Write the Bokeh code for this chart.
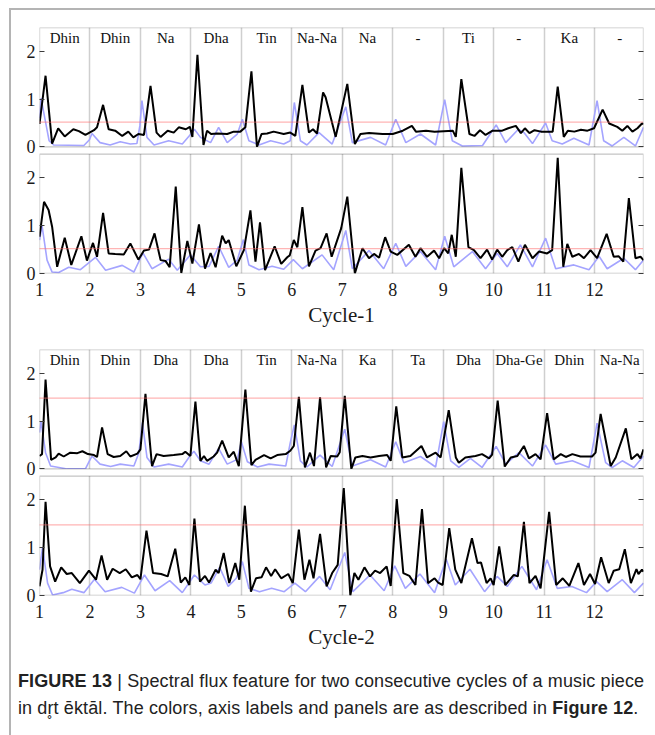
from bokeh.plotting import figure
from bokeh.models import Range1d, LinearAxis, Span, FixedTicker, Div, BoxAnnotation
from bokeh.layouts import column
from bokeh.core.properties import value
from bokeh.embed import file_html
from bokeh.resources import INLINE

SERIF = "Liberation Serif"
BEATS = list(range(1, 13))
BEAT_CENTERS = [b + 0.5 for b in BEATS]
STROKES_1 = ["Dhin", "Dhin", "Na", "Dha", "Tin", "Na-Na", "Na", "-", "Ti", "-", "Ka", "-"]
STROKES_2 = ["Dhin", "Dhin", "Dha", "Dha", "Tin", "Na-Na", "Ka", "Ta", "Dha", "Dha-Ge", "Dhin", "Na-Na"]
THRESH_1 = 0.52
THRESH_2 = 1.48
Y_TICKS = [0, 1, 2]
Y_MAX = 2.5

# ---- Cycle 1, panel a (top)
X1K = [1.00, 1.12, 1.25, 1.37, 1.50, 1.67, 1.78, 1.91, 2.08, 2.14, 2.26, 2.37, 2.50, 2.64, 2.76, 2.86, 2.96, 3.07, 3.20, 3.32, 3.40, 3.54, 3.66, 3.76, 3.90, 3.98, 4.03, 4.13, 4.25, 4.32, 4.40, 4.52, 4.72, 4.85, 4.98, 5.08, 5.20, 5.31, 5.40, 5.51, 5.64, 5.84, 5.97, 6.07, 6.21, 6.34, 6.42, 6.50, 6.62, 6.67, 6.87, 7.10, 7.25, 7.36, 7.53, 7.80, 8.00, 8.20, 8.38, 8.46, 8.66, 8.83, 9.19, 9.25, 9.36, 9.52, 9.62, 9.73, 9.84, 9.98, 10.17, 10.29, 10.44, 10.54, 10.62, 10.71, 10.81, 10.94, 11.17, 11.27, 11.39, 11.47, 11.60, 11.73, 11.86, 11.99, 12.16, 12.29, 12.45, 12.55, 12.65, 12.75, 12.85, 12.94, 12.97]
Y1K = [0.48, 1.49, 0.07, 0.39, 0.22, 0.37, 0.33, 0.25, 0.35, 0.41, 0.88, 0.37, 0.34, 0.23, 0.32, 0.20, 0.27, 0.25, 1.28, 0.30, 0.21, 0.34, 0.30, 0.41, 0.37, 0.42, 0.21, 1.93, 0.04, 0.34, 0.27, 0.28, 0.27, 0.32, 0.32, 0.41, 1.58, 0.00, 0.27, 0.28, 0.32, 0.27, 0.30, 0.23, 1.30, 0.30, 0.37, 0.28, 1.14, 1.04, 0.21, 1.32, 0.06, 0.27, 0.29, 0.27, 0.27, 0.34, 0.44, 0.32, 0.34, 0.32, 0.34, 0.21, 1.42, 0.27, 0.23, 0.35, 0.25, 0.34, 0.34, 0.39, 0.44, 0.29, 0.39, 0.29, 0.35, 0.32, 0.32, 1.26, 0.21, 0.34, 0.32, 0.36, 0.34, 0.39, 0.78, 0.49, 0.42, 0.34, 0.44, 0.32, 0.39, 0.49, 0.48]
X1B = [1.00, 1.03, 1.19, 1.28, 1.88, 1.99, 2.04, 2.20, 2.40, 2.60, 2.80, 2.93, 2.99, 3.03, 3.13, 3.27, 3.56, 3.83, 4.00, 4.07, 4.19, 4.39, 4.55, 4.72, 4.92, 5.02, 5.15, 5.35, 5.58, 5.84, 5.97, 6.05, 6.17, 6.30, 6.54, 6.80, 7.07, 7.20, 7.56, 7.86, 8.06, 8.26, 8.55, 8.85, 9.03, 9.18, 9.38, 9.78, 10.05, 10.24, 10.49, 10.60, 10.77, 11.03, 11.16, 11.36, 11.59, 11.89, 12.05, 12.18, 12.35, 12.58, 12.81, 12.97]
Y1B = [0.60, 1.02, 0.13, 0.04, 0.03, 0.15, 0.28, 0.09, 0.04, 0.11, 0.06, 0.07, 0.45, 0.97, 0.20, 0.04, 0.13, 0.06, 0.27, 0.37, 0.20, 0.09, 0.41, 0.09, 0.27, 0.58, 0.13, 0.04, 0.13, 0.06, 0.13, 0.93, 0.13, 0.04, 0.30, 0.06, 0.84, 0.09, 0.20, 0.04, 0.58, 0.09, 0.27, 0.04, 0.99, 0.13, 0.02, 0.03, 0.46, 0.09, 0.37, 0.30, 0.07, 0.50, 0.13, 0.06, 0.18, 0.04, 0.97, 0.13, 0.02, 0.20, 0.02, 0.41]

# ---- Cycle 1, panel b
X2K = [1.00, 1.09, 1.18, 1.25, 1.35, 1.50, 1.63, 1.83, 1.94, 2.06, 2.14, 2.26, 2.37, 2.50, 2.67, 2.80, 2.96, 3.07, 3.17, 3.28, 3.40, 3.50, 3.58, 3.70, 3.81, 3.93, 4.03, 4.16, 4.28, 4.39, 4.49, 4.62, 4.69, 4.75, 4.90, 5.05, 5.18, 5.28, 5.37, 5.47, 5.66, 5.79, 5.91, 5.96, 6.04, 6.11, 6.21, 6.34, 6.47, 6.57, 6.69, 6.79, 6.98, 7.10, 7.25, 7.40, 7.53, 7.63, 7.73, 7.85, 7.96, 8.09, 8.32, 8.45, 8.55, 8.68, 8.82, 8.92, 9.02, 9.10, 9.17, 9.25, 9.36, 9.50, 9.61, 9.74, 9.87, 9.97, 10.07, 10.17, 10.27, 10.37, 10.49, 10.62, 10.77, 10.90, 11.06, 11.16, 11.27, 11.38, 11.46, 11.56, 11.69, 11.79, 11.92, 12.05, 12.24, 12.38, 12.48, 12.57, 12.68, 12.81, 12.91, 12.97]
Y2K = [0.77, 1.50, 1.33, 0.98, 0.14, 0.75, 0.18, 0.78, 0.27, 0.64, 0.35, 1.27, 0.42, 0.41, 0.40, 0.63, 0.29, 0.48, 0.50, 0.84, 0.28, 0.26, 0.13, 1.82, 0.01, 0.68, 0.21, 1.03, 0.10, 0.43, 0.13, 0.79, 0.63, 0.70, 0.15, 0.49, 1.32, 0.25, 1.07, 0.07, 0.57, 0.20, 0.34, 0.38, 0.70, 0.55, 1.39, 0.15, 0.48, 0.53, 0.84, 0.35, 0.95, 1.61, 0.00, 0.53, 0.32, 0.41, 0.33, 0.76, 0.46, 0.39, 0.60, 0.35, 0.53, 0.35, 0.48, 0.32, 0.53, 0.42, 0.81, 0.35, 2.21, 0.55, 0.49, 0.32, 0.50, 0.29, 0.50, 0.35, 0.49, 0.55, 0.25, 0.60, 0.32, 0.46, 0.42, 0.49, 2.42, 0.14, 0.62, 0.35, 0.41, 0.32, 0.49, 0.32, 0.83, 0.35, 0.36, 0.25, 1.58, 0.32, 0.35, 0.28]
X2B = [1.00, 1.05, 1.15, 1.25, 1.38, 1.58, 1.81, 2.11, 2.31, 2.64, 2.87, 3.05, 3.23, 3.56, 3.73, 3.99, 4.19, 4.36, 4.55, 4.75, 4.92, 5.04, 5.15, 5.35, 5.61, 5.84, 6.03, 6.21, 6.60, 6.83, 7.07, 7.20, 7.53, 7.82, 8.06, 8.26, 8.55, 8.85, 9.03, 9.21, 9.58, 9.84, 10.07, 10.27, 10.53, 10.77, 11.03, 11.23, 11.59, 11.89, 12.09, 12.25, 12.58, 12.81, 12.97]
Y2B = [0.70, 1.00, 0.28, 0.03, 0.02, 0.13, 0.08, 0.34, 0.07, 0.17, 0.03, 0.43, 0.10, 0.30, 0.07, 0.39, 0.14, 0.15, 0.57, 0.13, 0.28, 0.71, 0.18, 0.08, 0.15, 0.09, 0.29, 0.10, 0.39, 0.08, 0.90, 0.10, 0.48, 0.10, 0.63, 0.15, 0.46, 0.08, 0.78, 0.14, 0.46, 0.10, 0.42, 0.14, 0.60, 0.14, 0.74, 0.10, 0.18, 0.08, 0.36, 0.10, 0.32, 0.08, 0.28]

# ---- Cycle 2, panel a
X3K = [1.00, 1.05, 1.12, 1.23, 1.32, 1.38, 1.48, 1.61, 1.75, 1.85, 1.96, 2.08, 2.14, 2.24, 2.35, 2.47, 2.60, 2.72, 2.80, 2.94, 3.00, 3.10, 3.23, 3.32, 3.46, 3.66, 3.83, 3.89, 3.99, 4.09, 4.19, 4.26, 4.32, 4.45, 4.52, 4.62, 4.75, 4.85, 4.95, 5.08, 5.20, 5.28, 5.45, 5.58, 5.71, 5.88, 5.97, 6.04, 6.14, 6.26, 6.36, 6.44, 6.56, 6.68, 6.77, 6.90, 6.95, 7.05, 7.18, 7.26, 7.40, 7.56, 7.73, 7.89, 7.96, 8.07, 8.19, 8.35, 8.57, 8.68, 8.85, 8.95, 9.11, 9.25, 9.31, 9.44, 9.64, 9.77, 9.91, 9.97, 10.08, 10.22, 10.34, 10.47, 10.60, 10.70, 10.83, 10.93, 11.06, 11.19, 11.33, 11.43, 11.56, 11.72, 11.95, 12.02, 12.12, 12.32, 12.42, 12.62, 12.73, 12.85, 12.91, 12.97]
Y3K = [0.27, 0.31, 1.87, 0.19, 0.24, 0.32, 0.26, 0.34, 0.33, 0.37, 0.31, 0.29, 0.25, 0.87, 0.31, 0.25, 0.27, 0.37, 0.26, 0.32, 0.41, 1.57, 0.06, 0.31, 0.27, 0.29, 0.31, 0.36, 0.27, 1.41, 0.17, 0.27, 0.17, 0.26, 0.34, 0.59, 0.24, 0.36, 0.06, 1.66, 0.08, 0.19, 0.29, 0.22, 0.29, 0.31, 0.38, 0.48, 1.51, 0.03, 0.34, 0.06, 1.50, 0.03, 0.27, 0.26, 0.35, 1.53, 0.00, 0.24, 0.27, 0.24, 0.27, 0.29, 0.17, 1.31, 0.24, 0.27, 0.48, 0.24, 0.34, 0.24, 1.23, 0.24, 0.13, 0.24, 0.27, 0.31, 0.22, 0.30, 1.43, 0.05, 0.24, 0.27, 0.48, 0.22, 0.31, 0.20, 1.17, 0.20, 0.31, 0.25, 0.31, 0.26, 0.26, 0.34, 1.15, 0.06, 0.24, 0.85, 0.20, 0.31, 0.22, 0.41]
X3B = [1.00, 1.03, 1.12, 1.22, 1.55, 1.91, 1.99, 2.04, 2.20, 2.41, 2.60, 2.87, 2.97, 3.04, 3.13, 3.27, 3.56, 3.83, 3.98, 4.06, 4.19, 4.36, 4.55, 4.72, 4.92, 5.00, 5.12, 5.32, 5.55, 5.88, 5.97, 6.05, 6.17, 6.30, 6.56, 6.80, 7.05, 7.20, 7.56, 7.86, 8.06, 8.22, 8.55, 8.85, 9.01, 9.15, 9.31, 9.54, 9.77, 10.05, 10.24, 10.50, 10.77, 11.03, 11.23, 11.56, 11.89, 12.05, 12.22, 12.35, 12.55, 12.78, 12.97]
Y3B = [0.76, 1.00, 0.34, 0.06, 0.00, 0.00, 0.17, 0.27, 0.10, 0.05, 0.10, 0.06, 0.34, 0.97, 0.24, 0.04, 0.10, 0.04, 0.27, 0.37, 0.17, 0.10, 0.43, 0.10, 0.20, 0.57, 0.15, 0.04, 0.10, 0.06, 0.55, 0.92, 0.17, 0.04, 0.29, 0.05, 0.83, 0.06, 0.19, 0.04, 0.57, 0.13, 0.26, 0.04, 0.99, 0.17, 0.03, 0.22, 0.03, 0.47, 0.10, 0.34, 0.06, 0.50, 0.10, 0.17, 0.03, 0.96, 0.13, 0.03, 0.17, 0.03, 0.27]

# ---- Cycle 2, panel b
X4K = [1.00, 1.06, 1.12, 1.21, 1.31, 1.43, 1.54, 1.64, 1.80, 1.98, 2.12, 2.23, 2.34, 2.45, 2.59, 2.71, 2.83, 2.94, 3.00, 3.12, 3.25, 3.41, 3.54, 3.69, 3.80, 3.89, 3.97, 4.07, 4.18, 4.28, 4.36, 4.49, 4.55, 4.65, 4.76, 4.88, 4.96, 5.07, 5.19, 5.29, 5.40, 5.49, 5.59, 5.67, 5.79, 5.93, 6.02, 6.14, 6.25, 6.35, 6.43, 6.56, 6.69, 6.80, 6.91, 7.03, 7.16, 7.24, 7.32, 7.44, 7.55, 7.65, 7.75, 7.88, 7.96, 8.08, 8.21, 8.33, 8.45, 8.58, 8.70, 8.83, 8.90, 8.99, 9.12, 9.24, 9.36, 9.57, 9.68, 9.75, 9.86, 9.94, 10.00, 10.11, 10.23, 10.40, 10.48, 10.60, 10.71, 10.83, 10.93, 11.10, 11.24, 11.37, 11.50, 11.68, 11.79, 11.91, 12.01, 12.13, 12.28, 12.38, 12.49, 12.60, 12.72, 12.83, 12.87, 12.94, 12.97]
Y4K = [0.19, 0.54, 1.96, 0.61, 0.29, 0.59, 0.45, 0.47, 0.26, 0.52, 0.33, 0.84, 0.33, 0.56, 0.47, 0.55, 0.38, 0.43, 0.34, 1.36, 0.47, 0.45, 0.40, 0.98, 0.27, 0.38, 0.22, 1.61, 0.29, 0.41, 0.27, 0.54, 0.47, 0.89, 0.26, 0.68, 0.33, 1.88, 0.08, 0.36, 0.38, 0.59, 0.41, 0.55, 0.36, 0.45, 0.26, 1.38, 0.33, 0.75, 0.36, 1.29, 0.19, 0.47, 0.64, 2.25, 0.00, 0.47, 0.33, 0.59, 0.40, 0.52, 0.47, 0.61, 0.20, 2.02, 0.47, 0.41, 0.22, 1.81, 0.26, 0.36, 0.27, 0.22, 1.41, 0.54, 0.26, 1.20, 0.68, 0.69, 0.26, 0.36, 0.22, 1.03, 0.22, 0.43, 0.40, 1.54, 0.26, 0.41, 0.15, 1.75, 0.22, 0.36, 0.20, 0.68, 0.22, 0.45, 0.24, 0.80, 0.26, 0.52, 0.55, 0.97, 0.26, 0.55, 0.45, 0.54, 0.50]
X4B = [1.00, 1.06, 1.16, 1.26, 1.47, 1.64, 1.88, 2.09, 2.30, 2.63, 2.88, 3.08, 3.29, 3.58, 3.83, 4.07, 4.28, 4.40, 4.57, 4.74, 4.90, 5.02, 5.15, 5.36, 5.60, 5.85, 6.06, 6.27, 6.55, 6.76, 7.05, 7.21, 7.55, 7.83, 8.04, 8.25, 8.54, 8.83, 9.06, 9.24, 9.53, 9.82, 10.07, 10.27, 10.56, 10.85, 11.06, 11.26, 11.55, 11.84, 12.04, 12.25, 12.55, 12.79, 12.97]
Y4B = [0.54, 1.01, 0.26, 0.01, 0.06, 0.13, 0.06, 0.34, 0.08, 0.17, 0.05, 0.43, 0.10, 0.31, 0.06, 0.43, 0.22, 0.26, 0.59, 0.19, 0.36, 0.71, 0.15, 0.08, 0.15, 0.08, 0.26, 0.08, 0.40, 0.12, 0.90, 0.08, 0.43, 0.10, 0.62, 0.15, 0.45, 0.06, 0.76, 0.22, 0.55, 0.08, 0.40, 0.19, 0.61, 0.12, 0.75, 0.15, 0.19, 0.06, 0.29, 0.08, 0.33, 0.06, 0.26]

FRAME_COLOR = "#3c3c3c"
LABEL_Y = 2.27
GAP = 0.15  # blank band between the two stacked panels, in y units


def pair(xs, ys):
    n = min(len(xs), len(ys))
    return xs[:n], ys[:n]


def style_axis_ticks(ax):
    ax.major_tick_in = 5
    ax.major_tick_out = 0
    ax.minor_tick_line_color = None
    ax.axis_line_color = None
    ax.major_tick_line_color = FRAME_COLOR


def make_cycle(top_data, bot_data, thresh, strokes, xlabel, top_border, bottom_border):
    off = round(Y_MAX + GAP, 4)
    total = round(Y_MAX + off, 4)
    p = figure(frame_width=604, frame_height=246,
               x_range=Range1d(1, 12.97), y_range=Range1d(0, total),
               output_backend="svg", toolbar_location=None,
               min_border_left=28, min_border_right=10,
               min_border_top=top_border, min_border_bottom=bottom_border)
    p.extra_y_ranges = {"upper": Range1d(-off, Y_MAX)}
    p.outline_line_color = None
    p.background_fill_color = "white"
    p.border_fill_color = "white"
    p.ygrid.visible = False
    p.xgrid.ticker = FixedTicker(ticks=BEATS)
    p.xgrid.grid_line_color = "#cfcfcf"
    p.xgrid.grid_line_width = 1.5

    # y ticks for both panels on one shared scale
    ticks = Y_TICKS + [round(t + off, 4) for t in Y_TICKS]
    labels = {round(t + off, 4): str(t) for t in Y_TICKS}
    ya = p.yaxis[0]
    ya.ticker = FixedTicker(ticks=ticks)
    ya.major_label_overrides = labels
    style_axis_ticks(ya)
    ya.major_label_text_font = SERIF
    ya.major_label_text_font_size = "18px"
    ya.major_label_text_color = "#1a1a1a"
    ya.major_label_standoff = 4

    ra = LinearAxis(ticker=FixedTicker(ticks=ticks),
                    major_label_overrides={t: "" for t in ticks},
                    major_label_standoff=0)
    style_axis_ticks(ra)
    p.add_layout(ra, "right")

    xa = p.xaxis[0]
    xa.ticker = FixedTicker(ticks=BEATS)
    xa.major_tick_in = 0
    xa.major_tick_out = 0
    xa.minor_tick_line_color = None
    xa.axis_line_color = None
    xa.major_label_text_font = SERIF
    xa.major_label_text_font_size = "18px"
    xa.major_label_text_color = "#1a1a1a"
    xa.major_label_standoff = 9
    xa.axis_label = xlabel
    xa.axis_label_text_font = SERIF
    xa.axis_label_text_font_size = "21px"
    xa.axis_label_text_font_style = "normal"
    xa.axis_label_text_color = "#1a1a1a"
    xa.axis_label_standoff = 4

    # white band between the two panels, then the two panel boxes
    p.add_layout(BoxAnnotation(bottom=Y_MAX, top=off, fill_color="white", fill_alpha=1.0,
                               line_color=None))
    p.add_layout(BoxAnnotation(bottom=0, top=Y_MAX, fill_alpha=0, line_color=FRAME_COLOR,
                               line_width=1.3))
    p.add_layout(BoxAnnotation(bottom=0, top=Y_MAX, fill_alpha=0, line_color=FRAME_COLOR,
                               line_width=1.3, y_range_name="upper"))

    (xk_a, yk_a, xb_a, yb_a) = top_data
    (xk_b, yk_b, xb_b, yb_b) = bot_data

    bx, by = pair(xb_a, yb_a)
    p.line(bx, by, line_color="#a4a4ff", line_width=1.6, y_range_name="upper")
    kx, ky = pair(xk_a, yk_a)
    p.line(kx, ky, line_color="black", line_width=2, y_range_name="upper")

    bx, by = pair(xb_b, yb_b)
    p.line(bx, by, line_color="#a4a4ff", line_width=1.6)
    kx, ky = pair(xk_b, yk_b)
    p.line(kx, ky, line_color="black", line_width=2)

    p.add_layout(Span(location=thresh, dimension="width", line_color="#ff6a6a",
                      line_dash="1 1", line_width=1.2, y_range_name="upper"))
    p.add_layout(Span(location=thresh, dimension="width", line_color="#ff6a6a",
                      line_dash="1 1", line_width=1.2))

    p.text(x=BEAT_CENTERS, y=[LABEL_Y] * len(strokes), text=strokes,
           text_font=value(SERIF), text_font_size="15px", text_color="#111111",
           text_align="center", text_baseline="middle", y_range_name="upper")
    return p


c1 = make_cycle((X1K, Y1K, X1B, Y1B), (X2K, Y2K, X2B, Y2B), THRESH_1, STROKES_1,
                "Cycle-1", 17, 57)
c2 = make_cycle((X3K, Y3K, X3B, Y3B), (X4K, Y4K, X4B, Y4B), THRESH_2, STROKES_2,
                "Cycle-2", 19, 65)

caption = Div(
    text=('<b>FIGURE 13</b> | Spectral flux feature for two consecutive cycles of a music piece<br>'
          'in dr\u0325t \u0113kt\u0101l. The colors, axis labels and panels are as described in <b>Figure 12</b>.'),
    width=642, height=75,
    styles={"font-family": "Liberation Sans", "font-size": "18px", "line-height": "27px",
            "letter-spacing": "0.12px",
            "color": "#222222", "padding-left": "2px", "padding-top": "3px",
            "white-space": "nowrap", "box-sizing": "border-box"})

layout = column(c1, c2, caption, spacing=0,
                styles={"border-top": "2px solid #b4b4b4", "border-left": "2px solid #b4b4b4",
                        "margin-left": "9px", "margin-top": "8px"})

open("out.html", "w").write(file_html(layout, INLINE, title="Spectral flux"))
